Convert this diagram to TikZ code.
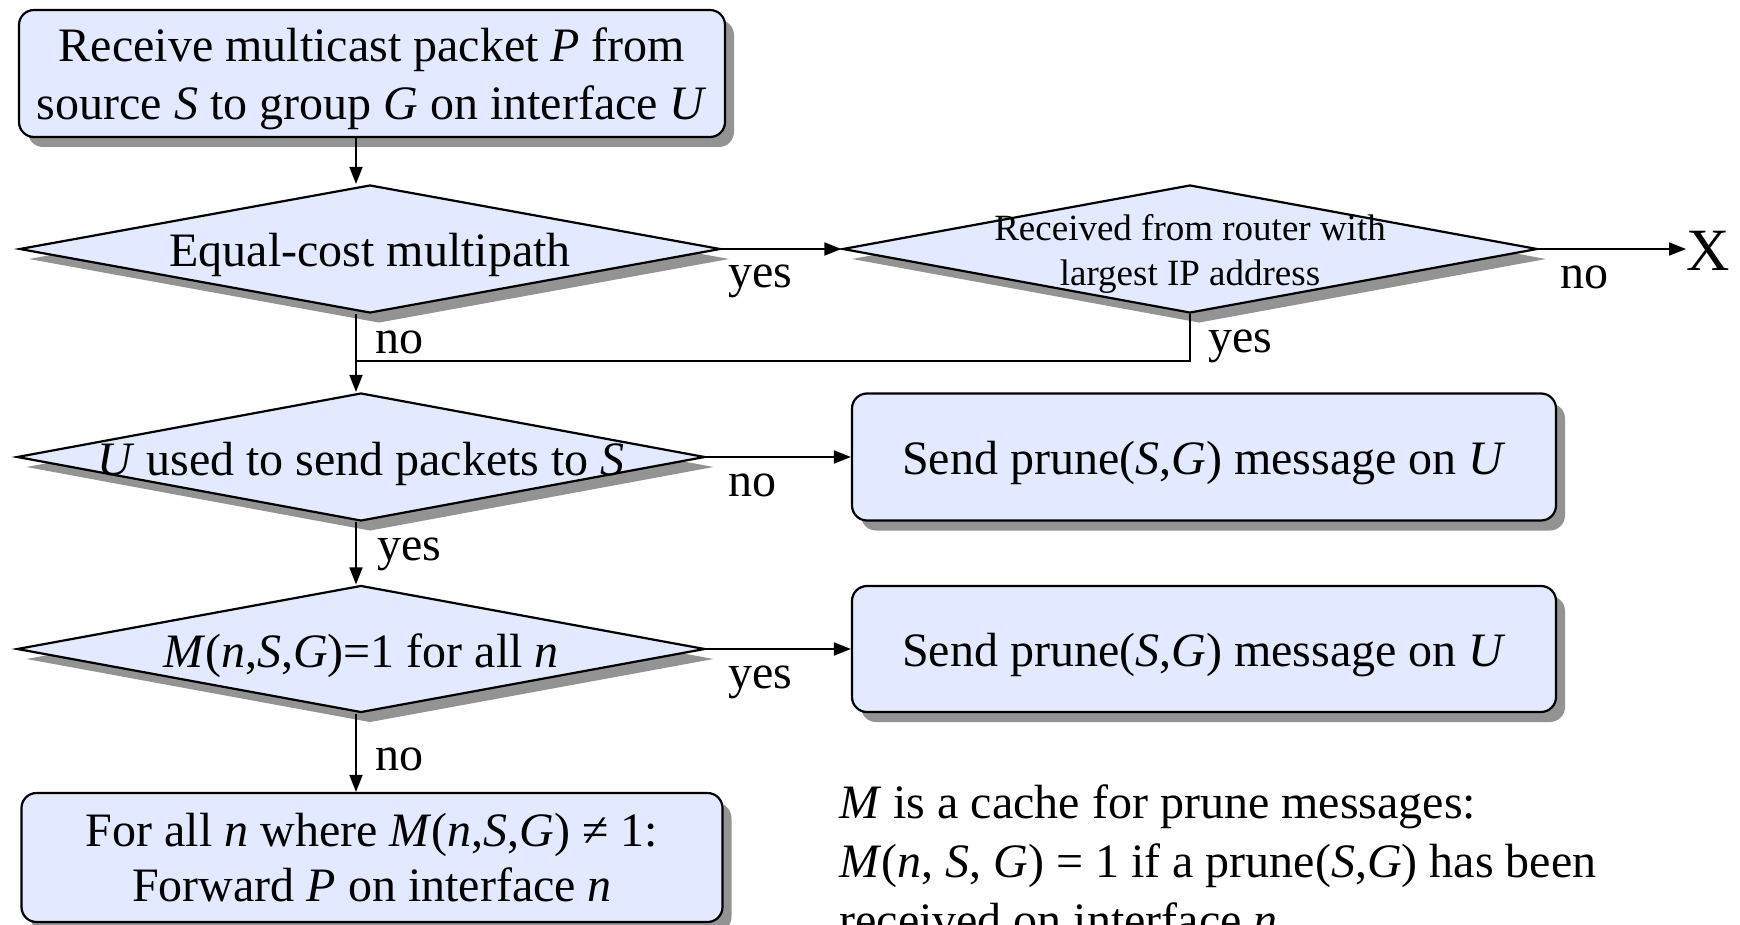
\documentclass[tikz,border=0pt]{standalone}
\usepackage{fontspec}
\setmainfont{Liberation Serif}
\usetikzlibrary{shapes.geometric,shadows,arrows.meta}

\definecolor{flowfill}{RGB}{227,233,255}
\definecolor{flowshadow}{RGB}{147,147,147}

\tikzstyle{flowbox}=[rectangle,
                     rounded corners=7.5pt,
                     draw,
                     line width=1.1pt,
                     fill=flowfill,
                     drop shadow={shadow xshift=4.5pt,shadow yshift=-5pt,fill=flowshadow,opacity=1},
                     inner sep=0pt,
                     align=center,
                     font=\fontsize{24}{27.5}\selectfont]
\tikzstyle{decision}=[diamond,
                      draw,
                      line width=1.1pt,
                      fill=flowfill,
                      drop shadow={shadow xshift=4.5pt,shadow yshift=-5pt,fill=flowshadow,opacity=1},
                      inner sep=0pt,
                      text height=18pt,
                      text depth=0pt,
                      font=\fontsize{24}{27.5}\selectfont]
\tikzstyle{flowlabel}=[anchor=base west,
                       inner sep=0pt,
                       font=\fontsize{24}{27.5}\selectfont]
\tikzstyle{flowarrow}=[-{Triangle[length=8.5pt,width=6.5pt]}, line width=1pt]
\tikzstyle{flowline}=[line width=1pt]

\begin{document}
\begin{tikzpicture}[x=0.5pt,y=-0.5pt]
    \useasboundingbox (0,0) rectangle (1740,925);
    \clip (0,0) rectangle (1740,925);

    \node [flowbox, minimum width=353pt, minimum height=63.5pt, text depth=-3pt,
           font=\fontsize{24}{29}\selectfont] (start) at (372,73.5)
        {Receive multicast packet \textit{P} from\\source \textit{S} to group \textit{G} on interface \textit{U}};
    \node [decision, minimum width=350.5pt, minimum height=64pt] (multipath) at (370,249)
        {\makebox[0pt]{Equal-cost multipath}};
    \node [decision, minimum width=347.5pt, minimum height=64pt, text height=13.7pt,
           font=\fontsize{18.5}{22.5}\selectfont] (largest) at (1190,249)
        {\makebox[0pt]{\begin{tabular}{@{}c@{}}Received from router with\\largest IP address\end{tabular}}};
    \node [anchor=west, inner sep=0pt, font=\fontsize{30}{36}\selectfont] (dropped) at (1686,251) {X};
    \node [decision, minimum width=344pt, minimum height=64pt] (usedtosend) at (361,457)
        {\makebox[0pt]{\textit{U} used to send packets to \textit{S}}};
    \node [flowbox, minimum width=352pt, minimum height=63.5pt, text height=17pt, text depth=0pt] (prunefirst) at (1204,457)
        {Send prune(\textit{S},\textit{G}) message on \textit{U}};
    \node [decision, minimum width=344pt, minimum height=63.5pt] (allpruned) at (361,649)
        {\makebox[0pt]{\textit{M}(\textit{n},\textit{S},\textit{G})=1 for all \textit{n}}};
    \node [flowbox, minimum width=352pt, minimum height=63pt, text height=17pt, text depth=0pt] (prunesecond) at (1204,649)
        {Send prune(\textit{S},\textit{G}) message on \textit{U}};
    \node [flowbox, minimum width=350.5pt, minimum height=64.5pt] (forward) at (372,857.5)
        {For all \textit{n} where \textit{M}(\textit{n},\textit{S},\textit{G}) ≠ 1:\\Forward \textit{P} on interface \textit{n}};
    \node [flowlabel, align=left, font=\fontsize{24}{29.5}\selectfont] (cachenote) at (839,936)
        {\textit{M} is a cache for prune messages:\\
         \textit{M}(\textit{n}, \textit{S}, \textit{G}) = 1 if a prune(\textit{S},\textit{G}) has been\\
         received on interface \textit{n}};

    \coordinate (join) at (356,361);

    \draw [flowarrow] (start.south -| join) -- (multipath.north -| join);
    \draw [flowarrow] (multipath.east) -- (largest.west);
    \draw [flowarrow] (largest.east) -- (largest.east -| dropped.west);
    \draw [flowline] (largest.south) |- (join);
    \draw [flowarrow] (multipath.south -| join) -- (usedtosend.north -| join);
    \draw [flowarrow] (usedtosend.east) -- (prunefirst.west);
    \draw [flowarrow] (usedtosend.south -| join) -- (allpruned.north -| join);
    \draw [flowarrow] (allpruned.east) -- (prunesecond.west);
    \draw [flowarrow] (allpruned.south -| join) -- (forward.north -| join);

    \node [flowlabel] (multipathyes) at (728,288) {yes};
    \node [flowlabel] (multipathno) at (375,353) {no};
    \node [flowlabel] (largestyes) at (1208,352) {yes};
    \node [flowlabel] (largestno) at (1560,289) {no};
    \node [flowlabel] (usedtosendno) at (728,496) {no};
    \node [flowlabel] (usedtosendyes) at (377,560) {yes};
    \node [flowlabel] (allprunedyes) at (728,688) {yes};
    \node [flowlabel] (allprunedno) at (375,770) {no};
\end{tikzpicture}
\end{document}
